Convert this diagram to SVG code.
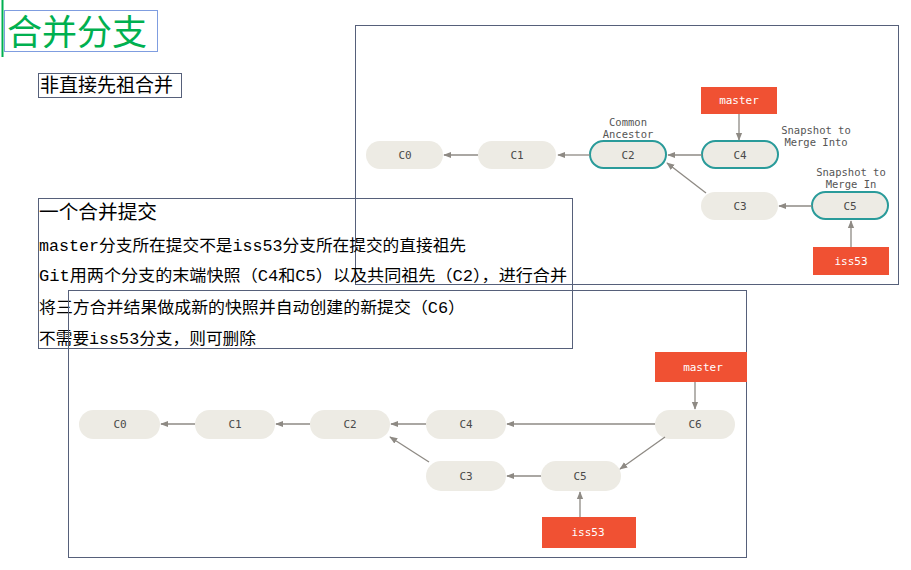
<svg xmlns="http://www.w3.org/2000/svg" width="911" height="570" viewBox="0 0 911 570">
<style>
.frame{fill:none;stroke:#56607a;stroke-width:1}
.pill{fill:#edebe4}
.hl{fill:#edebe4;stroke:#2a9b9a;stroke-width:2}
.ref{fill:#f05133}
.lbl{font-family:"DejaVu Sans Mono","Liberation Mono",monospace;font-size:11px;fill:#4a4a4a;text-anchor:middle}
.rlbl{font-family:"DejaVu Sans Mono","Liberation Mono",monospace;font-size:11px;fill:#ffffff;text-anchor:middle}
.note{font-family:"DejaVu Sans Mono","Liberation Mono",monospace;font-size:10.5px;fill:#555;text-anchor:middle}
.cn{font-family:"Liberation Mono","Noto Sans CJK SC",monospace;fill:#000}
.edge{stroke:#8e8a84;stroke-width:1.3;fill:none;marker-end:url(#ah)}
</style>
<defs>
<marker id="ah" viewBox="0 0 10 10" refX="9" refY="5" markerWidth="8" markerHeight="8" markerUnits="userSpaceOnUse" orient="auto">
<path d="M0,1 L10,5 L0,9 z" fill="#8e8a84"/>
</marker>
</defs>
<rect width="911" height="570" fill="#ffffff"/>

<g id="title">
<rect x="1.5" y="0" width="2" height="57" fill="#00b050"/>
<rect x="4.5" y="10.5" width="153" height="41" fill="none" stroke="#7f9de0" stroke-width="1"/>
<text x="7" y="45" font-family="Noto Sans CJK SC, sans-serif" font-size="35" fill="#00b050">合并分支</text>
</g>

<g id="subtitle">
<rect x="38.5" y="73.5" width="143" height="24" fill="none" stroke="#56607a"/>
<text x="40" y="92" font-family="Noto Sans CJK SC, sans-serif" font-size="19" fill="#000">非直接先祖合并</text>
</g>

<!-- top diagram -->
<g id="top-frame"><rect class="frame" x="355.5" y="25.5" width="543" height="259"/></g>
<g id="t-C0"><rect class="pill" x="366" y="141" width="77" height="28" rx="14"/><text class="lbl" x="405" y="159">C0</text></g>
<g id="t-C1"><rect class="pill" x="478" y="141" width="78" height="28" rx="14"/><text class="lbl" x="517" y="159">C1</text></g>
<g id="t-C2"><rect class="hl" x="590" y="141" width="76" height="27" rx="13.5"/><text class="lbl" x="628" y="159">C2</text></g>
<g id="t-C4"><rect class="hl" x="702" y="141" width="76" height="27" rx="13.5"/><text class="lbl" x="740" y="159">C4</text></g>
<g id="t-C3"><rect class="pill" x="701" y="192" width="77" height="28" rx="14"/><text class="lbl" x="740" y="210">C3</text></g>
<g id="t-C5"><rect class="hl" x="812" y="192" width="76" height="27" rx="13.5"/><text class="lbl" x="850" y="210">C5</text></g>
<g id="t-master"><rect class="ref" x="701" y="87" width="76" height="27"/><text class="rlbl" x="739" y="104">master</text></g>
<g id="t-iss53"><rect class="ref" x="813" y="247" width="76" height="28"/><text class="rlbl" x="851" y="265">iss53</text></g>
<g id="t-notes">
<text class="note" x="628" y="126">Common</text>
<text class="note" x="628" y="138">Ancestor</text>
<text class="note" x="816" y="134">Snapshot to</text>
<text class="note" x="816" y="146">Merge Into</text>
<text class="note" x="851" y="176">Snapshot to</text>
<text class="note" x="851" y="188">Merge In</text>
</g>
<g id="top-edges">
<line class="edge" x1="478" y1="155" x2="444" y2="155"/>
<line class="edge" x1="590" y1="155" x2="558" y2="155"/>
<line class="edge" x1="702" y1="155" x2="668" y2="155"/>
<line class="edge" x1="706" y1="193" x2="667" y2="163"/>
<line class="edge" x1="812" y1="206" x2="779" y2="206"/>
<line class="edge" x1="739" y1="114" x2="739" y2="140"/>
<line class="edge" x1="851" y1="247" x2="851" y2="221"/>
</g>

<!-- text box -->
<g id="textbox">
<rect class="frame" x="38.5" y="198.5" width="534" height="150"/>
<text class="cn" x="39" y="219" font-size="19" textLength="118" lengthAdjust="spacingAndGlyphs">一个合并提交</text>
<text class="cn" x="39" y="251" font-size="16" textLength="427" lengthAdjust="spacingAndGlyphs">master分支所在提交不是iss53分支所在提交的直接祖先</text>
<text class="cn" x="39" y="281" font-size="16" textLength="528" lengthAdjust="spacingAndGlyphs">Git用两个分支的末端快照（C4和C5）以及共同祖先（C2），进行合并</text>
<text class="cn" x="39" y="313" font-size="16" textLength="426" lengthAdjust="spacingAndGlyphs">将三方合并结果做成新的快照并自动创建的新提交（C6）</text>
<text class="cn" x="39" y="344" font-size="16" textLength="217" lengthAdjust="spacingAndGlyphs">不需要iss53分支，则可删除</text>
</g>

<!-- bottom diagram -->
<g id="bottom-frame"><rect class="frame" x="68.5" y="290.5" width="678" height="267"/></g>
<g id="b-C0"><rect class="pill" x="79" y="410" width="81" height="29" rx="14.5"/><text class="lbl" x="120" y="428">C0</text></g>
<g id="b-C1"><rect class="pill" x="195" y="410" width="80" height="29" rx="14.5"/><text class="lbl" x="235" y="428">C1</text></g>
<g id="b-C2"><rect class="pill" x="310" y="410" width="80" height="29" rx="14.5"/><text class="lbl" x="350" y="428">C2</text></g>
<g id="b-C4"><rect class="pill" x="426" y="410" width="80" height="29" rx="14.5"/><text class="lbl" x="466" y="428">C4</text></g>
<g id="b-C6"><rect class="pill" x="655" y="410" width="80" height="29" rx="14.5"/><text class="lbl" x="695" y="428">C6</text></g>
<g id="b-C3"><rect class="pill" x="426" y="461" width="80" height="30" rx="15"/><text class="lbl" x="466" y="480">C3</text></g>
<g id="b-C5"><rect class="pill" x="541" y="461" width="80" height="30" rx="15"/><text class="lbl" x="580" y="480">C5</text></g>
<g id="b-master"><rect class="ref" x="655" y="352" width="92" height="30"/><text class="rlbl" x="703" y="371">master</text></g>
<g id="b-iss53"><rect class="ref" x="542" y="517" width="94" height="31"/><text class="rlbl" x="588" y="536">iss53</text></g>
<g id="bottom-edges">
<line class="edge" x1="195" y1="424" x2="161" y2="424"/>
<line class="edge" x1="310" y1="424" x2="276" y2="424"/>
<line class="edge" x1="426" y1="424" x2="391" y2="424"/>
<line class="edge" x1="655" y1="424" x2="507" y2="424"/>
<line class="edge" x1="665" y1="437" x2="620" y2="469"/>
<line class="edge" x1="541" y1="476" x2="507" y2="476"/>
<line class="edge" x1="429" y1="462" x2="390" y2="437"/>
<line class="edge" x1="695" y1="382" x2="695" y2="409"/>
<line class="edge" x1="580" y1="517" x2="580" y2="492"/>
</g>
</svg>
